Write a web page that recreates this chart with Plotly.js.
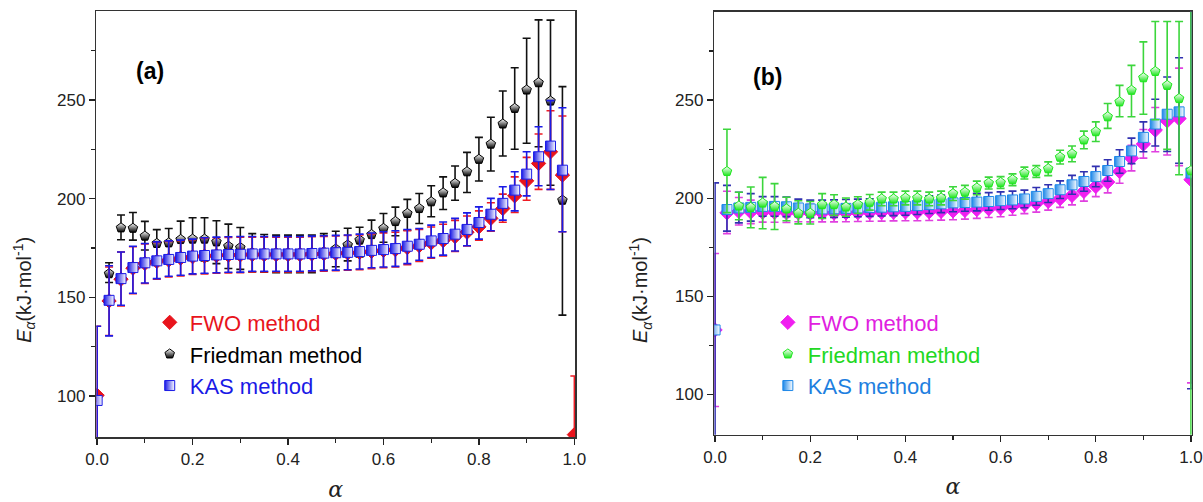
<!DOCTYPE html>
<html>
<head>
<meta charset="utf-8">
<script src="https://cdn.plot.ly/plotly-3.0.1.min.js"></script>
<style>html,body{margin:0;padding:0;background:#fff;}#chart{width:1203px;height:502px;}</style>
</head>
<body>
<div id="chart"></div>
<script>
// conversion degree alpha
const alpha = [0.0,0.025,0.05,0.075,0.1,0.125,0.15,0.175,0.2,0.225,0.25,0.275,0.3,0.325,0.35,0.375,0.4,0.425,0.45,0.475,0.5,0.525,0.55,0.575,0.6,0.625,0.65,0.675,0.7,0.725,0.75,0.775,0.8,0.825,0.85,0.875,0.9,0.925,0.95,0.975,1.0];

// ---------- panel (a) ----------
const fwoA      = [100.4,148.2,159.2,164.8,167.2,168.2,168.9,169.9,170.6,170.9,171.2,171.4,171.5,171.7,171.7,171.7,171.7,171.7,171.9,172.1,172.3,172.5,172.8,173.3,173.8,174.2,175.2,176.2,177.6,178.8,180.8,183.0,185.7,190.0,195.0,201.4,209.0,217.8,223.7,211.9,80.5];
const fwoAPlus  = [35,17.2,13.8,10.8,9.8,9.6,9.4,8.8,8.6,9,9,9,9,8.8,8.8,8.8,8.8,8.8,8.8,8.8,8.8,8.8,8.8,8.8,8.8,8.8,8.5,8.2,8.0,8.2,8.2,8.2,8.1,7.9,7.3,9.6,11.9,14.9,20.8,29.9,29.7];
const fwoAMinus = [35,17.5,13.5,13,10.2,9,8.5,9,9,9,9,9,9,8.8,8.8,8.8,8.8,8.8,8.8,8.8,8.8,8.8,8.8,8.8,8.8,8.8,8.6,8.0,7.8,7.8,7.6,7.0,6.7,6.5,7.0,8.4,9.8,13.1,19.0,28.7,29.7];

const frA      = [null,162.0,185.2,185.0,181.0,177.3,177.6,179.3,179.5,179.5,178.1,175.9,175.2,172.6,172.3,172.0,172.0,172.0,172.0,173.0,174.5,176.5,179.0,181.8,184.9,188.4,192.5,195.0,198.4,202.9,207.7,213.6,219.9,227.6,237.8,245.7,255.0,258.7,249.4,199.2,null];
const frAPlus  = [null,5.5,6.5,8,7.5,7,7.3,9.3,10.8,10.8,10.7,11.2,10.2,9.7,9.5,9.5,9.5,9.5,9.5,9.3,9,8.5,6.5,7.3,7.6,7.3,7.1,7.6,8.1,8.1,8.8,9.8,11.1,13.6,16.7,20.6,26.2,31.8,41.0,57.5,null];
const frAMinus = [null,4.5,6,6,7,7,7,10,10.7,11,11,11.3,11,9.7,9.5,9.5,9.5,9.5,9.5,9.3,9,8,8.5,7,7,7.2,8.5,7.6,7.6,8.4,8.5,10.5,11,13.6,16.2,20.7,27,32.4,42.6,58.2,null];

const kasA      = [97.8,148.5,159.5,165.1,167.5,168.5,169.2,170.2,170.9,171.2,171.5,171.7,171.8,172.0,172.0,172.0,172.0,172.0,172.2,172.4,172.6,172.8,173.2,173.8,174.2,174.7,175.9,176.9,178.6,179.8,182.0,184.4,187.9,192.1,197.6,204.3,212.4,221.2,226.6,214.4,null];
const kasAPlus  = [37.6,17.5,13.5,10.8,9.8,9.6,9.4,8.8,8.6,9,9,9,9,8.8,8.8,8.8,8.8,8.8,8.8,8.8,8.8,8.8,8.8,8.8,9,9,8.5,8,8,8.4,8,8.4,7.9,8,8.4,9.3,11.3,15.2,23,31.6,null];
const kasAMinus = [37.6,18,13.5,13,10.2,9,8.5,9,9,9,9,9,9,8.8,8.8,8.8,8.8,8.8,8.8,8.8,8.8,8.8,8.8,8.8,8.8,9,8.8,8.1,8.4,8.4,8.5,8.3,8.4,8.4,8.5,10.5,11,14.7,22,31.2,null];

// ---------- panel (b) ----------
const fwoB      = [132.8,192.5,193.3,193.0,192.8,192.7,192.6,192.5,192.4,192.4,192.4,192.5,192.6,192.7,192.8,192.9,193.0,193.0,193.1,193.3,193.5,193.8,194.2,194.6,195.0,195.8,196.6,197.4,198.4,199.8,201.4,203.5,206.0,208.2,213.6,220.4,227.6,234.7,239.4,240.6,209.4];
const fwoBPlus  = [39,11,7,6,5,5,5,4.5,4.5,4.5,4.5,4.5,4.5,4.5,4.5,4.5,4.5,4.5,4.5,4.5,4.5,4.5,4.5,4.5,4.5,4.5,4.5,4.5,4.5,4.5,4.8,5,5.2,5.5,6,6.5,7.4,11.5,17,25.7,103.6];
const fwoBMinus = [39,10.6,7,6,5,5,5,4.5,4.5,4.5,4.5,4.5,4.5,4.5,4.5,4.5,4.5,4.5,4.5,4.5,4.5,4.5,4.5,4.5,4.5,4.5,4.5,4.5,4.5,4.5,4.8,5,5.2,5.5,6,6.5,7.2,11,17.4,24,103.6];

const frB      = [null,213.6,196.0,195.3,197.5,195.7,194.5,192.3,192.3,196.7,196.7,195.5,196.7,197.9,199.6,199.6,200.1,200.1,199.6,200.1,202.3,203.0,205.2,207.7,208.0,209.4,212.8,213.6,215.0,220.9,222.6,229.7,233.9,241.5,249.1,255.0,261.4,264.6,257.5,250.8,214.0];
const frBPlus  = [null,21.5,7,10.4,13.1,11.7,6,6.4,6,5.6,5,4.6,4,4,3.5,3.5,3.5,3.5,3.5,3.5,3.5,3.5,3.5,3,3,3,3,3,3.5,3.5,4,4.5,5,6.8,8.4,12.7,18.3,25.5,32.6,39.3,140];
const frBMinus = [null,21,7,10.4,13.1,11.7,6,5.4,5.5,7.1,5.5,4.7,4.5,4,3.5,3.5,3.5,3.5,3.5,3.5,3.5,3.5,3.5,3,3,3,3,3,3.5,3.5,4,4.5,5,5.9,7.6,13.5,18.6,24.6,32.6,38.9,140];

const kasB      = [132.8,194.2,195.0,195.3,195.8,195.8,195.6,195.0,194.5,194.5,194.6,194.8,195.0,195.2,195.4,195.6,195.8,196.2,196.7,197.1,197.6,197.8,198.0,198.3,198.7,199.1,199.6,200.9,202.3,204.3,206.8,208.5,211.0,214.1,218.7,224.1,231.0,237.8,242.8,244.0,212.8];
const kasBPlus  = [75,12.3,8,7,5,5,5,4.5,4.5,4.5,4.5,4.5,4.5,4.5,4.5,4.5,4.5,4.5,4.5,4.5,4.5,4.5,4.5,4.5,4.5,4.5,4.5,4.5,4.5,4.5,4.8,5,5.2,5.5,6,6.5,7.9,12.6,19,27.6,110];
const kasBMinus = [75,11,7.6,7,5,5,5,4.5,4.5,4.5,4.5,4.5,4.5,4.5,4.5,4.5,4.5,4.5,4.5,4.5,4.5,4.5,4.5,4.5,4.5,4.5,4.5,4.5,4.5,4.5,4.8,5,5.2,5.5,6,6.5,7.3,11.2,19,26.2,110];

const legendNames = ['FWO method','Friedman method','KAS method'];
const panelLabels = ['(a)','(b)'];
const yTitle = '<i>E</i><sub><i>α</i></sub>(kJ·mol<sup>-1</sup>)';
const xTitle = '<i>α</i>';
const yTickVals = [100,150,200,250];

const FONT = 'Arial, "Liberation Sans", sans-serif';

function errs(plus, minus, color){
  return {type:'data', symmetric:false, array:plus, arrayminus:minus, color:color, thickness:1.6, width:4};
}
function tr(y, plus, minus, name, rank, color, barColor, marker, xa, ya, legend, textColor){
  return {
    type:'scatter', mode:'markers', x:alpha, y:y,
    name:'<span style="color:'+textColor+'">'+name+'</span>',
    legendrank:rank,
    xaxis:xa, yaxis:ya, legend:legend,
    marker:Object.assign({color:color, size:10, line:{color:color, width:1}}, marker),
    error_y:errs(plus, minus, barColor),
    cliponaxis:true, hoverinfo:'x+y'
  };
}

const data = [
  tr(frA, frAPlus, frAMinus, legendNames[1], 2, '#ffffff', '#111111',
     {symbol:'pentagon', color:'#ffffff', gradient:{type:'vertical', color:'#000000'}, line:{color:'#000000', width:1}}, 'x','y','legend','#000000'),
  tr(fwoA, fwoAPlus, fwoAMinus, legendNames[0], 1, '#e8141c', '#ee1c24',
     {symbol:'diamond', size:11}, 'x','y','legend','#e8141c'),
  tr(kasA, kasAPlus, kasAMinus, legendNames[2], 3, '#1a1ae6', '#1a1ae6',
     {symbol:'square', color:'#1a1ae6', gradient:{type:'horizontal', color:'#ffffff'}, line:{color:'#1a1ae6', width:1}}, 'x','y','legend','#1a1ae6'),

  tr(fwoB, fwoBPlus, fwoBMinus, legendNames[0], 1, '#f01ef0', '#e040e0',
     {symbol:'diamond', size:11}, 'x2','y2','legend2','#e020e0'),
  tr(kasB, kasBPlus, kasBMinus, legendNames[2], 3, '#1e88e8', '#3030b0',
     {symbol:'square', color:'#1e88e8', gradient:{type:'horizontal', color:'#ffffff'}, line:{color:'#1e88e8', width:1}}, 'x2','y2','legend2','#1e7fe0'),
  tr(frB, frBPlus, frBMinus, legendNames[1], 2, '#22dd22', '#3cd63c',
     {symbol:'pentagon', color:'#ffffff', gradient:{type:'vertical', color:'#1ee61e'}, line:{color:'#1ee61e', width:1}}, 'x2','y2','legend2','#22d822')
];

function xax(domain, anchor){
  return {domain:domain, anchor:anchor, range:[-0.0017,1.0017], tickmode:'array', tickvals:[0,0.2,0.4,0.6,0.8,1.0],
    ticktext:['0.0','0.2','0.4','0.6','0.8','1.0'], layer:'below traces',
    ticks:'outside', ticklen:6, tickwidth:1.3, tickcolor:'#222',
    minor:{dtick:0.1, tick0:0, ticks:'outside', ticklen:4, tickwidth:1.2, tickcolor:'#222'},
    showline:true, linecolor:'#333', linewidth:1.5, mirror:true, showgrid:false, zeroline:false,
    tickfont:{family:FONT, size:17, color:'#222'}, automargin:false,
    title:{text:xTitle, font:{family:'"DejaVu Serif", serif', size:22, color:'#222'}, standoff:13}};
}
function yax(domain, anchor){
  return {domain:domain, anchor:anchor, range:[79.3,295], tickmode:'array', tickvals:yTickVals, layer:'below traces',
    ticks:'outside', ticklen:6, tickwidth:1.3, tickcolor:'#222',
    minor:{dtick:25, tick0:0, ticks:'outside', ticklen:4, tickwidth:1.2, tickcolor:'#222'},
    showline:true, linecolor:'#333', linewidth:1.5, mirror:true, showgrid:false, zeroline:false,
    tickfont:{family:FONT, size:17, color:'#222'}, automargin:false};
}

const legendCommon = {bgcolor:'rgba(0,0,0,0)', borderwidth:0, font:{family:FONT, size:22, color:'#000'},
  xanchor:'left', yanchor:'top', tracegroupgap:0, itemwidth:30, traceorder:'normal'};

function yTitleAnn(xpx){
  return {text:yTitle, xref:'paper', yref:'paper', x:(xpx-97)/1094, y:(437-290)/426, xanchor:'center', yanchor:'middle',
    textangle:-90, showarrow:false, font:{family:FONT, size:20, color:'#222'}};
}

const layout = {
  width:1203, height:502,
  margin:{l:96, r:11, t:11, b:65},
  paper_bgcolor:'#fff', plot_bgcolor:'#fff',
  xaxis:xax([0.0003,0.4372],'y'),
  yaxis:yax([0,1],'x'),
  xaxis2:xax([0.5641,0.9998],'y2'),
  yaxis2:yax([0.005,0.998],'x2'),
  showlegend:true,
  legend:Object.assign({}, legendCommon, {x:0.049, y:0.318}),
  legend2:Object.assign({}, legendCommon, {x:0.613, y:0.318}),
  annotations:[
    {text:'<b>'+panelLabels[0]+'</b>', xref:'paper', yref:'paper', x:0.0493, y:0.858, xanchor:'center', yanchor:'middle', showarrow:false, font:{family:FONT, size:23, color:'#000'}},
    {text:'<b>'+panelLabels[1]+'</b>', xref:'paper', yref:'paper', x:0.613, y:0.845, xanchor:'center', yanchor:'middle', showarrow:false, font:{family:FONT, size:23, color:'#000'}},
    yTitleAnn(25),
    yTitleAnn(640)
  ]
};

Plotly.newPlot('chart', data, layout, {displayModeBar:false, staticPlot:true});
</script>
</body>
</html>
